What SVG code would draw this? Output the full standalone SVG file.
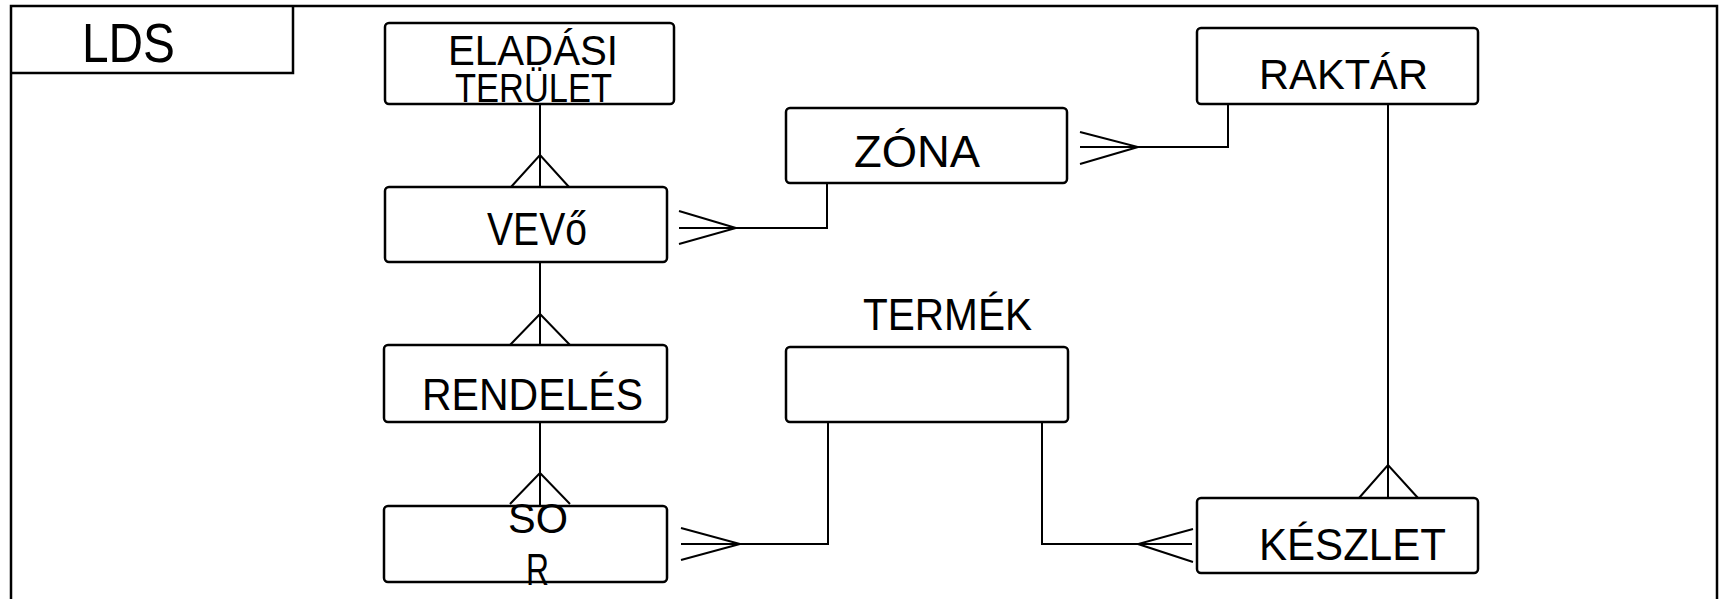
<svg xmlns="http://www.w3.org/2000/svg" width="1725" height="599" viewBox="0 0 1725 599">
<style>
.box{fill:#fff;stroke:#000;stroke-width:2.5}
.ln{fill:none;stroke:#000;stroke-width:2}
.fr{fill:none;stroke:#000;stroke-width:2.5}
text{font-family:"Liberation Sans","DejaVu Sans",sans-serif;fill:#000}
</style>
<rect width="1725" height="599" fill="#fff"/>
<g id="frame">
<path class="fr" d="M11,599 V6 H1717 V599"/>
<path class="fr" d="M11,73 H293 V6"/>
<text x="82" y="62" font-size="55" textLength="93" lengthAdjust="spacingAndGlyphs">LDS</text>
</g>
<g id="connectors">
<path class="ln" d="M540,104 V187 M511,187 L540,155 L569,187"/>
<path class="ln" d="M540,262 V345 M510,345 L540,314 L570,345"/>
<path class="ln" d="M540,422 V506 M510,504 L540,473 L570,504"/>
<path class="ln" d="M679,228 H827 V183 M679,211 L736,228 L679,244"/>
<path class="ln" d="M1080,147 H1228 V104 M1080,132 L1138,147 L1080,164"/>
<path class="ln" d="M681,544 H828 V422 M681,528 L740,544 L681,560"/>
<path class="ln" d="M1042,422 V544 H1192 M1193,529 L1138,544 L1193,562"/>
<path class="ln" d="M1388,104 V498 M1359,498 L1388,465 L1418,498"/>
</g>
<g id="eladasi">
<rect class="box" x="385" y="23" width="289" height="81" rx="4"/>
<text x="448" y="65" font-size="42" textLength="170" lengthAdjust="spacingAndGlyphs">ELADÁSI</text>
<text x="455" y="102" font-size="40" textLength="157" lengthAdjust="spacingAndGlyphs">TERÜLET</text>
</g>
<g id="vevo">
<rect class="box" x="385" y="187" width="282" height="75" rx="4"/>
<text x="487" y="245" font-size="46" textLength="100" lengthAdjust="spacingAndGlyphs">VEVő</text>
</g>
<g id="rendeles">
<rect class="box" x="384" y="345" width="283" height="77" rx="4"/>
<text x="422" y="410" font-size="45" textLength="221" lengthAdjust="spacingAndGlyphs">RENDELÉS</text>
</g>
<g id="sor">
<rect class="box" x="384" y="506" width="283" height="76" rx="4"/>
<text x="508" y="533" font-size="42" textLength="60" lengthAdjust="spacingAndGlyphs">SO</text>
<text x="526" y="585" font-size="44" textLength="23" lengthAdjust="spacingAndGlyphs">R</text>
</g>
<g id="zona">
<rect class="box" x="786" y="108" width="281" height="75" rx="4"/>
<text x="854" y="167" font-size="44" textLength="126" lengthAdjust="spacingAndGlyphs">ZÓNA</text>
</g>
<g id="raktar">
<rect class="box" x="1197" y="28" width="281" height="76" rx="4"/>
<text x="1259" y="89" font-size="42" textLength="169" lengthAdjust="spacingAndGlyphs">RAKTÁR</text>
</g>
<g id="termek">
<rect class="box" x="786" y="347" width="282" height="75" rx="4"/>
<text x="863" y="330" font-size="45" textLength="169" lengthAdjust="spacingAndGlyphs">TERMÉK</text>
</g>
<g id="keszlet">
<rect class="box" x="1197" y="498" width="281" height="75" rx="4"/>
<text x="1259" y="560" font-size="44" textLength="187" lengthAdjust="spacingAndGlyphs">KÉSZLET</text>
</g>
</svg>
